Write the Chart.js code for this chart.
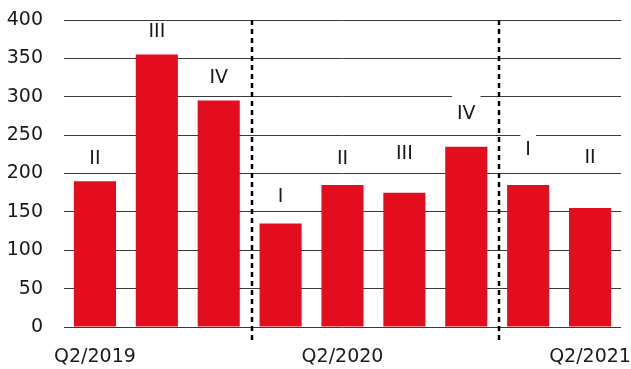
<!DOCTYPE html>
<html>
<head>
<meta charset="utf-8">
<script src="https://cdn.jsdelivr.net/npm/chart.js@4"></script>
<style>
  html, body { margin: 0; padding: 0; background: #ffffff; }
  #wrap { width: 631px; height: 369px; }
</style>
</head>
<body>
<div id="wrap"><canvas id="chart" width="631" height="369"></canvas></div>
<script>
// Quarterly values, Q2/2019 to Q2/2021
const quarters = ['Q2/2019', 'Q3/2019', 'Q4/2019', 'Q1/2020', 'Q2/2020', 'Q3/2020', 'Q4/2020', 'Q1/2021', 'Q2/2021'];
const quarterNumerals = ['II', 'III', 'IV', 'I', 'II', 'III', 'IV', 'I', 'II'];
const values = [190, 355, 295, 135, 185, 175, 235, 185, 155];
// height (in axis units) at which each quarter numeral is written
const numeralLevels = [220, 386, 326, 171, 220, 227, 279, 232, 221];
// axis labels shown under the bars
const shownQuarterLabels = ['Q2/2019', 'Q2/2020', 'Q2/2021'];
const yTickValues = [0, 50, 100, 150, 200, 250, 300, 350, 400];

const FONT = '"DejaVu Sans", Verdana, sans-serif';
const FONT_SIZE = 19;
const TEXT = '#1a1a1a';
const RED = '#e30d1d';

// Dotted separators before each first quarter (year change)
const yearDividers = {
  id: 'yearDividers',
  afterDatasetsDraw(chart) {
    const { ctx, chartArea, scales: { x } } = chart;
    ctx.save();
    ctx.strokeStyle = '#000000';
    ctx.lineWidth = 2.5;
    ctx.setLineDash([5, 4]);
    quarterNumerals.forEach((q, i) => {
      if (q !== 'I' || i === 0) return;
      const px = Math.round((x.getPixelForValue(i - 1) + x.getPixelForValue(i)) / 2) + 2;
      ctx.beginPath();
      ctx.moveTo(px, chartArea.top);
      ctx.lineTo(px, chartArea.bottom + 14);
      ctx.stroke();
    });
    ctx.restore();
  }
};

// Quarter numerals above the bars, on a white ground
const quarterLabels = {
  id: 'quarterLabels',
  afterDatasetsDraw(chart) {
    const { ctx, chartArea, scales: { x, y } } = chart;
    ctx.save();
    ctx.font = FONT_SIZE + 'px ' + FONT;
    ctx.textAlign = 'center';
    ctx.textBaseline = 'middle';
    quarterNumerals.forEach((q, i) => {
      const cx = x.getPixelForValue(i);
      const cy = y.getPixelForValue(numeralLevels[i]);
      const w = ctx.measureText(q).width + 10;
      const top = Math.max(Math.floor(cy - 16.5), chartArea.top + 2);
      ctx.fillStyle = '#ffffff';
      ctx.fillRect(cx - w / 2, top, w, cy + 10 - top);
      ctx.fillStyle = TEXT;
      ctx.fillText(q, cx, cy + 1);
    });
    ctx.restore();
  }
};

new Chart(document.getElementById('chart'), {
  type: 'bar',
  data: {
    labels: quarters,
    datasets: [{
      data: values,
      backgroundColor: RED,
      borderWidth: 0,
      categoryPercentage: 1,
      barPercentage: 0.68
    }]
  },
  options: {
    responsive: false,
    devicePixelRatio: 1,
    animation: false,
    layout: { padding: { top: 20, right: 10, bottom: 0, left: 0 } },
    plugins: {
      legend: { display: false },
      tooltip: { enabled: false }
    },
    scales: {
      x: {
        grid: { display: false, drawTicks: false },
        border: { display: false },
        ticks: {
          autoSkip: false,
          maxRotation: 0,
          padding: 19,
          color: TEXT,
          font: { family: FONT, size: FONT_SIZE },
          callback(value, index) {
            const label = quarters[index];
            return shownQuarterLabels.includes(label) ? label : '';
          }
        },
        afterFit(scale) {
          scale.height = 42;
          scale.paddingLeft = 0;
          scale.paddingRight = 0;
        }
      },
      y: {
        min: 0,
        max: 400,
        afterBuildTicks(scale) {
          scale.ticks = yTickValues.map(v => ({ value: v }));
        },
        grid: { color: '#3a3a3a', lineWidth: 1, drawTicks: false },
        border: { display: false },
        ticks: {
          padding: 21,
          color: TEXT,
          font: { family: FONT, size: FONT_SIZE }
        },
        afterFit(scale) {
          scale.width = 64;
          scale.paddingTop = 0;
          scale.paddingBottom = 0;
        }
      }
    }
  },
  plugins: [quarterLabels, yearDividers]
});
</script>
</body>
</html>
